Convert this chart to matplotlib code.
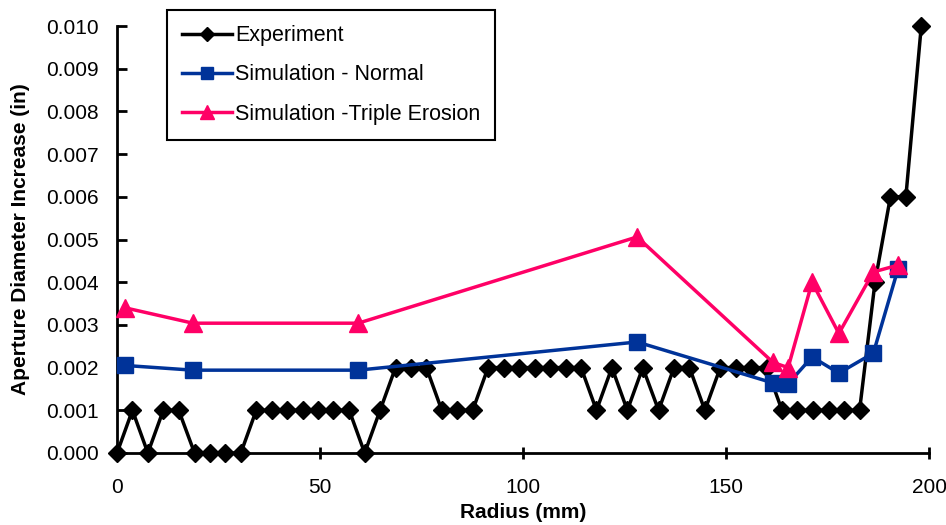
import numpy as np
import matplotlib
matplotlib.use('Agg')
import matplotlib.pyplot as plt

matplotlib.rc('font', family=['Liberation Sans', 'DejaVu Sans'], size=15)

# experiment: radius (mm) and aperture increase (in)
r_exp = [0, 3.8, 7.6, 11.4, 15.2, 19.1, 22.9, 26.7, 30.5, 34.3,
         38.1, 41.9, 45.7, 49.5, 53.3, 57.2, 61.0, 64.8, 68.6, 72.4,
         76.2, 80.0, 83.8, 87.6, 91.4, 95.3, 99.1, 102.9, 106.7, 110.5,
         114.3, 118.1, 121.9, 125.7, 129.5, 133.4, 137.2, 141.0, 144.8, 148.6,
         152.4, 156.2, 160.0, 163.8, 167.6, 171.5, 175.3, 179.1, 182.9, 186.7,
         190.5, 194.3, 198.1]
d_exp = [0, 0.001, 0, 0.001, 0.001, 0, 0, 0, 0, 0.001,
         0.001, 0.001, 0.001, 0.001, 0.001, 0.001, 0, 0.001, 0.002, 0.002,
         0.002, 0.001, 0.001, 0.001, 0.002, 0.002, 0.002, 0.002, 0.002, 0.002,
         0.002, 0.001, 0.002, 0.001, 0.002, 0.001, 0.002, 0.002, 0.001, 0.002,
         0.002, 0.002, 0.002, 0.001, 0.001, 0.001, 0.001, 0.001, 0.001, 0.004,
         0.006, 0.006, 0.010]

# simulation - normal
r_sim = [2.0, 18.7, 59.4, 128.1, 161.6, 165.3, 171.2, 177.8, 186.3, 192.4]
d_norm = [0.00205, 0.00194, 0.00194, 0.0026, 0.00164, 0.00162, 0.00225, 0.00187, 0.00234, 0.00432]

# simulation - triple erosion
d_trip = [0.0034, 0.00304, 0.00304, 0.00506, 0.00212, 0.002, 0.0040, 0.0028, 0.00424, 0.0044]

fig = plt.figure(figsize=(9.46, 5.25), dpi=100)
ax = fig.add_axes([117/946., 1-453/525., (929-117)/946., (453-26)/525.])

ax.plot(r_exp, d_exp, color='black', lw=2.5, marker='D', ms=9, label='Experiment', clip_on=False, zorder=3)
ax.plot(r_sim, d_norm, color='#003399', lw=2.5, marker='s', ms=12, label='Simulation - Normal', clip_on=False, zorder=4)
ax.plot(r_sim, d_trip, color='#FF0066', lw=2.5, marker='^', ms=13, label='Simulation -Triple Erosion', clip_on=False, zorder=5)

ax.set_xlim(0, 200)
ax.set_ylim(0, 0.010)
ax.set_xticks([0, 50, 100, 150, 200])
ax.set_yticks(np.arange(0, 0.0101, 0.001))
ax.yaxis.set_major_formatter(matplotlib.ticker.FormatStrFormatter('%.3f'))
ax.spines['top'].set_visible(False)
ax.spines['right'].set_visible(False)
ax.spines['left'].set_linewidth(2)
ax.spines['bottom'].set_linewidth(2)
ax.tick_params(axis='y', direction='in', length=7, width=2, pad=13)
ax.tick_params(axis='x', direction='inout', length=8, width=2, pad=14)

ax.set_xlabel('Radius (mm)', fontweight='bold', fontsize=15, labelpad=4)
ax.set_ylabel('Aperture Diameter Increase (in)', fontweight='bold', fontsize=15, labelpad=12)

leg = ax.legend(loc='upper left', bbox_to_anchor=(167/946., 1-10/525.), bbox_transform=fig.transFigure,
                fancybox=False, framealpha=1, edgecolor='black', handlelength=2.3, handletextpad=0.15,
                labelspacing=0.85, borderpad=0.7, fontsize=15.5, borderaxespad=0)
leg.get_frame().set_linewidth(1.5)
for h in leg.legend_handles:
    h.set_markersize(h.get_markersize() * 0.75)

fig.savefig('out.png', dpi=100)
